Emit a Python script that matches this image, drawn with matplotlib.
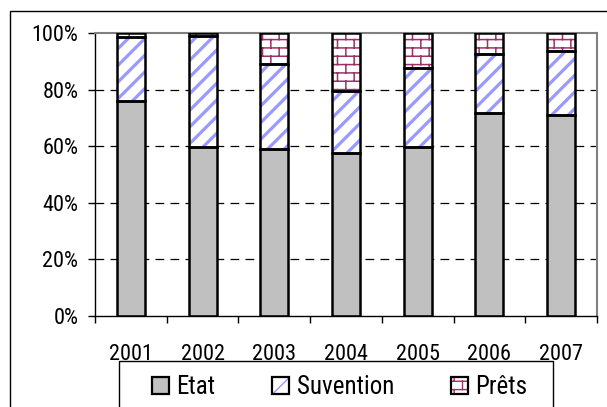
import warnings
import numpy as np
import matplotlib
matplotlib.use("Agg")
import matplotlib.pyplot as plt
import matplotlib.hatch as mhatch
from matplotlib import font_manager
from matplotlib.patches import Patch, Rectangle
from matplotlib.legend_handler import HandlerTuple
from matplotlib.ticker import FixedLocator, PercentFormatter

warnings.filterwarnings("ignore")

# ---- Data (share of each source, %) ----
years = ['2001', '2002', '2003', '2004', '2005', '2006', '2007']
etat = [76.0, 59.8, 59.0, 57.7, 59.7, 71.6, 71.0]
suvention = [22.6, 39.1, 29.9, 21.9, 28.0, 21.1, 22.6]
prets = [1.4, 1.1, 11.1, 20.4, 12.3, 7.3, 6.4]
series_names = ['Etat', 'Suvention', 'Prêts']


# ---- brick hatch ('b'), not part of matplotlib ----
class BrickHatch(mhatch.HatchPatternBase):
    def __init__(self, hatch, density):
        self.rows = int(hatch.count('b') * density)
        self.cols = max(self.rows // 2, 1)
        self.num_vertices = (self.rows + self.rows * self.cols) * 2

    def set_vertices_and_codes(self, vertices, codes):
        segs = []
        for i in range(self.rows):
            y0 = (i + 0.25) / self.rows
            y1 = (i + 1.25) / self.rows
            segs.append(((0.0, y0), (1.0, y0)))
            off = 0.25 / self.cols if i % 2 == 0 else 0.75 / self.cols
            for k in range(self.cols):
                xk = off + k / self.cols
                segs.append(((xk, y0), (xk, y1)))
        pts = np.array([p for s in segs for p in s])
        vertices[:] = pts
        codes[0::2] = mhatch.Path.MOVETO
        codes[1::2] = mhatch.Path.LINETO


mhatch._hatch_types.append(BrickHatch)

# narrow Arial-like font if we have one
font = 'DejaVu Sans'
for cand in ['Liberation Sans Narrow', 'DejaVu Sans Condensed',
             'Roboto Condensed', 'Open Sans Condensed', 'Liberation Sans']:
    try:
        font_manager.findfont(cand, fallback_to_default=False)
        font = cand
        break
    except Exception:
        pass
plt.rcParams['font.family'] = [font, 'DejaVu Sans']
narrow = font != 'DejaVu Sans' and font != 'Liberation Sans'
fs = 16 if narrow else 13.5
lfs = 18 if narrow else 15

grey = '#C0C0C0'
blue = '#9999FF'
brick = '#993366'

fig = plt.figure(figsize=(6.07, 4.07), dpi=100)
ax = fig.add_axes([95 / 607, 1 - 316 / 407, 502 / 607, 283 / 407])

x = np.arange(len(years))
w = 0.39
bot2 = np.array(etat)
bot3 = bot2 + np.array(suvention)

# fill / hatch layers (hatch colour comes from the edge colour)
ax.bar(x, etat, w, color=grey, linewidth=0, zorder=2)
with plt.rc_context({'hatch.linewidth': 2.3}):
    sv = ax.bar(x, suvention, w, bottom=bot2, color='white', edgecolor=blue,
                hatch='//', linewidth=0, zorder=2)
    for b in sv:
        if hasattr(b, 'set_hatch_linewidth'):
            b.set_hatch_linewidth(2.3)
with plt.rc_context({'hatch.linewidth': 1.1}):
    pr = ax.bar(x, prets, w, bottom=bot3, color='white', edgecolor=brick,
                hatch='bb', linewidth=0, zorder=2)
    for b in pr:
        if hasattr(b, 'set_hatch_linewidth'):
            b.set_hatch_linewidth(1.1)

# black outlines on top
for vals, bottom in [(etat, 0), (suvention, bot2), (prets, bot3)]:
    ax.bar(x, vals, w, bottom=bottom, fill=False, edgecolor='black',
           linewidth=1.8, zorder=3)

ax.set_xlim(-0.5, len(years) - 0.5)
ax.set_ylim(0, 100)
ax.set_yticks([0, 20, 40, 60, 80, 100])
ax.yaxis.set_major_formatter(PercentFormatter(decimals=0))
ax.set_xticks(x)
ax.set_xticklabels(years)
ax.xaxis.set_minor_locator(FixedLocator(np.arange(-0.5, len(years), 1.0)))
ax.tick_params(axis='x', which='major', length=0, pad=20, labelsize=fs)
ax.tick_params(axis='x', which='minor', length=5, width=1, direction='out')
ax.tick_params(axis='y', length=5, width=1, pad=7, labelsize=fs)

for yv in [20, 40, 60, 80]:
    ax.axhline(yv, color='black', linestyle=(0, (7, 5)), linewidth=0.9, zorder=1)

for s in ['top', 'right']:
    ax.spines[s].set_color('#808080')
    ax.spines[s].set_linewidth(1.5)
for s in ['left', 'bottom']:
    ax.spines[s].set_color('black')
    ax.spines[s].set_linewidth(1.0)

# outer chart frame (runs off the right / bottom edge)
fig.add_artist(Rectangle((10 / 607, -0.1), 1.0, 1 - 11 / 407 + 0.1,
                         transform=fig.transFigure, fill=False,
                         edgecolor='black', linewidth=1.0))

# legend box, also running off the bottom
fig.add_artist(Rectangle((119 / 607, -0.1), (553 - 119) / 607, 0.1 + 1 - 361 / 407,
                         transform=fig.transFigure, facecolor='white',
                         edgecolor='black', linewidth=1.0, zorder=1))

h_etat = Patch(facecolor=grey, edgecolor='black', linewidth=1.6)
h_suv = (Patch(facecolor='white', edgecolor=blue, hatch='//', linewidth=0),
         Patch(fill=False, edgecolor='black', linewidth=1.6))
h_pr = (Patch(facecolor='white', edgecolor=brick, hatch='bb', linewidth=0),
        Patch(fill=False, edgecolor='black', linewidth=1.6))
handle_x = [152, 272, 451]
for h, name, hx in zip([h_etat, h_suv, h_pr], series_names, handle_x):
    leg = fig.legend([h], [name],
                     handler_map={tuple: HandlerTuple(ndivide=1, pad=0)},
                     loc='center left', bbox_to_anchor=(hx / 607, 1 - 387 / 407),
                     frameon=False, fontsize=lfs, handlelength=0.66,
                     handleheight=0.66, handletextpad=0.32,
                     borderpad=0, borderaxespad=0)
    leg.set_zorder(5)

fig.savefig('out.png', dpi=100)
